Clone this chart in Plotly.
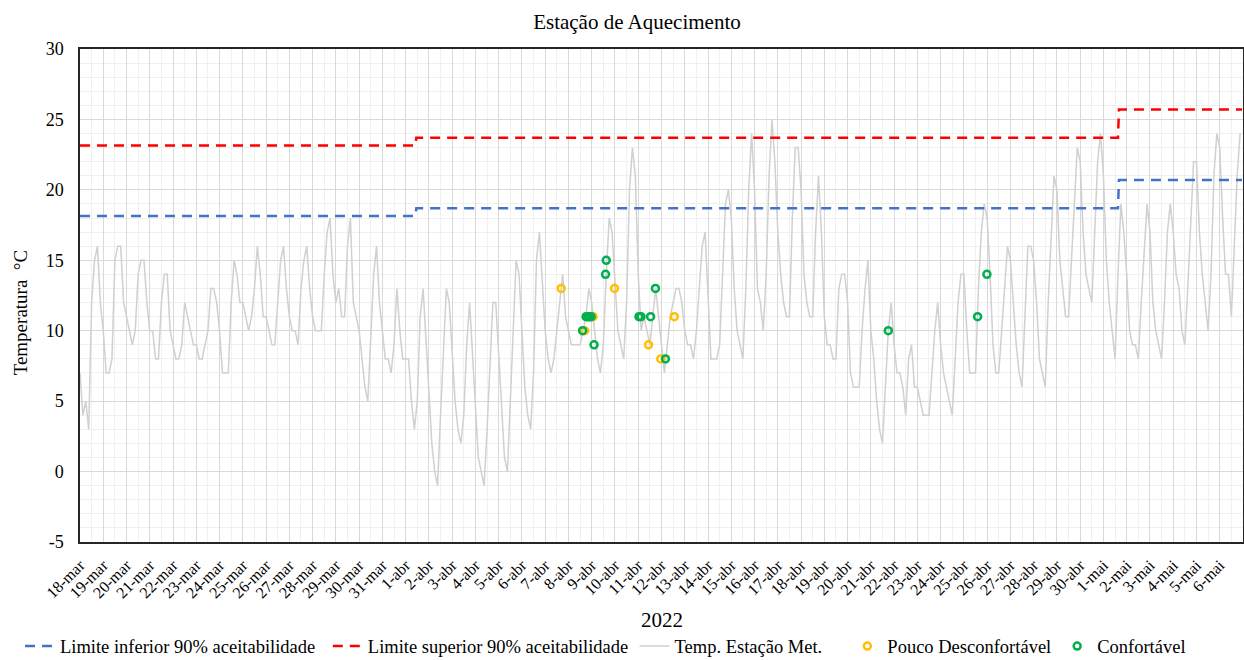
import pandas as pd
import plotly.graph_objects as go

# ---------------- data ----------------
START = "2022-03-18"
END = "2022-05-07"

# Outdoor temperature (weather station), one reading every 3 h (00,03,...,21 h), 18-mar .. 6-mai
temp_3h = [
    7, 4, 5, 3, 12, 15, 16, 12,      # 18-mar
    10, 7, 7, 8, 15, 16, 16, 12,     # 19-mar
    11, 10, 9, 10, 14, 15, 15, 12,   # 20-mar
    10, 10, 8, 8, 12, 14, 14, 10,    # 21-mar
    9, 8, 8, 9, 12, 11, 10, 9,       # 22-mar
    9, 8, 8, 9, 10, 13, 13, 12,      # 23-mar
    10, 7, 7, 7, 12, 15, 14, 12,     # 24-mar
    12, 11, 10, 11, 13, 16, 14, 11,  # 25-mar
    11, 10, 9, 9, 12, 15, 16, 13,    # 26-mar
    11, 10, 10, 9, 13, 15, 16, 13,   # 27-mar
    11, 10, 10, 10, 14, 17, 18, 14,  # 28-mar
    12, 13, 11, 11, 16, 18, 12, 11,  # 29-mar
    10, 8, 6, 5, 9, 14, 16, 12,      # 30-mar
    10, 8, 8, 7, 9, 13, 10, 8,       # 31-mar
    8, 8, 5, 3, 5, 11, 13, 9,        # 1-abr
    5, 2, 0, -1, 4, 9, 13, 12,       # 2-abr
    8, 5, 3, 2, 4, 9, 12, 8,         # 3-abr
    4, 1, 0, -1, 3, 8, 12, 12,       # 4-abr
    8, 4, 1, 0, 5, 11, 15, 14,       # 5-abr
    10, 6, 4, 3, 7, 15, 17, 13,      # 6-abr
    10, 8, 7, 8, 10, 12, 14, 11,     # 7-abr
    10, 9, 9, 9, 9, 10, 11, 13,      # 8-abr
    12, 10, 8, 7, 9, 14, 18, 17,     # 9-abr
    13, 10, 9, 8, 12, 20, 23, 21,    # 10-abr
    14, 10, 11, 10, 9, 11, 13, 11,   # 11-abr
    9, 7, 9, 11, 12, 13, 13, 12,     # 12-abr
    10, 9, 9, 8, 10, 13, 16, 17,     # 13-abr
    13, 8, 8, 8, 9, 14, 19, 20,      # 14-abr
    18, 13, 10, 9, 8, 13, 20, 24,    # 15-abr
    20, 13, 12, 10, 14, 21, 25, 22,  # 16-abr
    17, 14, 12, 11, 11, 18, 23, 23,  # 17-abr
    20, 14, 12, 11, 11, 17, 21, 17,  # 18-abr
    11, 9, 9, 8, 8, 13, 14, 14,      # 19-abr
    12, 7, 6, 6, 6, 10, 13, 15,      # 20-abr
    10, 8, 5, 3, 2, 6, 10, 12,       # 21-abr
    9, 7, 7, 6, 4, 8, 9, 6,          # 22-abr
    6, 5, 4, 4, 4, 7, 10, 12,        # 23-abr
    9, 7, 6, 5, 4, 8, 12, 14,        # 24-abr
    14, 10, 7, 7, 7, 13, 17, 19,     # 25-abr
    18, 14, 9, 7, 7, 10, 13, 16,     # 26-abr
    15, 12, 9, 7, 6, 11, 16, 16,     # 27-abr
    15, 12, 8, 7, 6, 12, 17, 21,     # 28-abr
    20, 15, 13, 11, 11, 15, 20, 23,  # 29-abr
    22, 17, 14, 13, 12, 17, 22, 24,  # 30-abr
    21, 15, 12, 10, 8, 14, 19, 17,   # 1-mai
    14, 10, 9, 9, 8, 12, 16, 19,     # 2-mai
    17, 12, 10, 9, 8, 12, 17, 19,    # 3-mai
    17, 14, 13, 10, 9, 13, 18, 22,   # 4-mai
    22, 17, 14, 12, 10, 14, 21, 24,  # 5-mai
    23, 18, 14, 14, 11, 16, 21, 24,  # 6-mai
]

# 90 % acceptability limits (step changes)
limit_times = ["2022-03-18 00:00", "2022-04-01 10:00", "2022-04-01 11:00",
               "2022-05-01 15:00", "2022-05-01 16:00", "2022-05-06 23:00"]
lower_limit = [18.15, 18.15, 18.7, 18.7, 20.7, 20.7]
upper_limit = [23.15, 23.15, 23.7, 23.7, 25.7, 25.7]

# Thermal sensation votes
pouco_times = ["2022-04-07 16:30", "2022-04-08 16:40", "2022-04-09 01:25", "2022-04-09 23:30",
               "2022-04-11 10:35", "2022-04-11 23:15", "2022-04-12 13:10"]
pouco_vals = [13, 10, 11, 13, 9, 8, 11]

conf_times = ["2022-04-08 14:35", "2022-04-08 18:10", "2022-04-08 20:00", "2022-04-08 21:45",
              "2022-04-08 23:20", "2022-04-09 02:25", "2022-04-09 15:00", "2022-04-09 14:15",
              "2022-04-11 00:45", "2022-04-11 02:50", "2022-04-11 12:45", "2022-04-11 17:45",
              "2022-04-12 04:05", "2022-04-21 18:00", "2022-04-25 14:10", "2022-04-25 23:45"]
conf_vals = [10, 11, 11, 11, 11, 9, 15, 14, 11, 11, 11, 13, 8, 10, 11, 14]

day_labels = (
    [f"{d}-mar" for d in range(18, 32)]
    + [f"{d}-abr" for d in range(1, 31)]
    + [f"{d}-mai" for d in range(1, 7)]
)

y_tick_vals = [-5, 0, 5, 10, 15, 20, 25, 30]
y_tick_text = ["-5", "0", "5", "10", "15", "20", "25", "30"]

# ---------------- figure ----------------
temp_times = pd.date_range(START, periods=len(temp_3h), freq="3h")
day_ticks = pd.date_range(START, periods=len(day_labels), freq="D")

FONT = "Liberation Serif, Times New Roman, serif"

fig = go.Figure()

fig.add_trace(go.Scatter(
    x=temp_times, y=temp_3h, mode="lines", name="Temp. Estação Met.",
    line=dict(color="#d0d0d0", width=1.5), legend="legend3"))

fig.add_trace(go.Scatter(
    x=limit_times, y=lower_limit, mode="lines", name="Limite inferior 90% aceitabilidade",
    line=dict(color="#4472C4", width=2.5, dash="10px,7px"), legend="legend"))

fig.add_trace(go.Scatter(
    x=limit_times, y=upper_limit, mode="lines", name="Limite superior 90% aceitabilidade",
    line=dict(color="#FF0000", width=2.5, dash="10px,7px"), legend="legend2"))

fig.add_trace(go.Scatter(
    x=pouco_times, y=pouco_vals, mode="markers", name="Pouco Desconfortável",
    marker=dict(symbol="circle-open", size=7, color="#FFC000", line=dict(width=2.5)),
    legend="legend4"))

fig.add_trace(go.Scatter(
    x=conf_times, y=conf_vals, mode="markers", name="Confortável",
    marker=dict(symbol="circle-open", size=7, color="#00B050", line=dict(width=2.5)),
    legend="legend5"))

LEG_Y = -0.212
leg_common = dict(orientation="h", xanchor="left", y=LEG_Y, yanchor="middle",
                  font=dict(size=18.5, family=FONT), bgcolor="rgba(0,0,0,0)")

fig.update_layout(
    width=1244, height=660,
    margin=dict(l=80, r=1, t=49, b=118, autoexpand=False),
    paper_bgcolor="white", plot_bgcolor="white",
    font=dict(family=FONT, size=18, color="black"),
    title=dict(text="Estação de Aquecimento", x=0.512, xanchor="center",
               y=0.967, yanchor="middle", font=dict(size=21, family=FONT)),
    legend=dict(x=-0.0516, **leg_common),
    legend2=dict(x=0.2131, **leg_common),
    legend3=dict(x=0.4768, **leg_common),
    legend4=dict(x=0.6598, **leg_common),
    legend5=dict(x=0.8402, **leg_common),
    showlegend=True,
    annotations=[
        dict(text="Temperatura  °C", textangle=-90, xref="paper", yref="paper",
             x=-0.0515, y=0.466, xanchor="center", yanchor="middle", showarrow=False,
             font=dict(size=19, family=FONT)),
        dict(text="2022", xref="paper", yref="paper", x=0.5, y=-0.158,
             xanchor="center", yanchor="middle", showarrow=False,
             font=dict(size=21, family=FONT)),
    ],
)

fig.update_xaxes(
    type="date", range=[START, END], automargin=False,
    tickmode="array", tickvals=day_ticks, ticktext=day_labels,
    tickangle=-45, tickfont=dict(size=16, family=FONT),
    showgrid=True, gridcolor="#d9d9d9", gridwidth=1,
    minor=dict(tickmode="linear", tick0="2022-03-18 12:00", dtick=86400000,
               showgrid=True, gridcolor="#f0f0f0", gridwidth=1),
    showline=True, linecolor="#262626", linewidth=1.5, mirror=True,
    ticks="", zeroline=False, ticklabelstandoff=6,
)

fig.update_yaxes(
    range=[-5, 30], tickmode="array", tickvals=y_tick_vals, ticktext=y_tick_text,
    automargin=False,
    tickfont=dict(size=18, family=FONT),
    showgrid=True, gridcolor="#d9d9d9", gridwidth=1,
    minor=dict(tickmode="linear", tick0=0, dtick=1, showgrid=True,
               gridcolor="#f0f0f0", gridwidth=1),
    showline=True, linecolor="#262626", linewidth=1.5, mirror=True,
    ticks="", zeroline=False, ticklabelstandoff=11,
)

fig.write_html("out.html")
